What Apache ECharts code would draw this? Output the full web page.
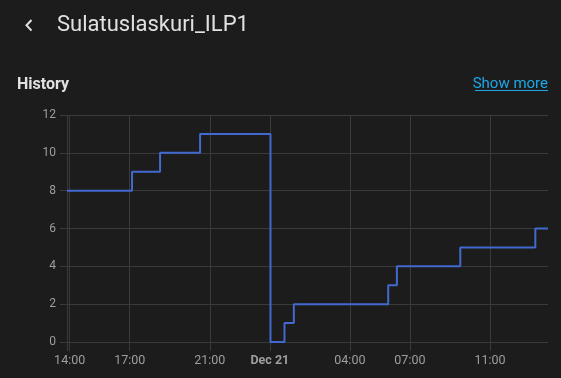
<!DOCTYPE html>
<html><head><meta charset="utf-8">
<script src="https://cdn.jsdelivr.net/npm/echarts@6/dist/echarts.min.js"></script>
<style>html,body{margin:0;padding:0;background:#1c1c1c;}#c{width:561px;height:378px;}</style>
</head><body><div id="c"></div>
<script>
const title = 'Sulatuslaskuri_ILP1';
const sectionTitle = 'History';
const linkText = 'Show more';
const stepTimes = ['2024-12-20 13:52','2024-12-20 17:07','2024-12-20 18:31','2024-12-20 20:31','2024-12-21 00:02','2024-12-21 00:44','2024-12-21 01:12','2024-12-21 05:55','2024-12-21 06:21','2024-12-21 09:31','2024-12-21 13:16','2024-12-21 13:54'];
const stepValues = [8, 9, 10, 11, 0, 1, 2, 3, 4, 5, 6, 6];
const xTickTimes = ['2024-12-20 14:00','2024-12-20 17:00','2024-12-20 21:00','2024-12-21 00:00','2024-12-21 04:00','2024-12-21 07:00','2024-12-21 11:00'];
const xMin = '2024-12-20 13:52';
const xMax = '2024-12-21 13:54';
const yTicks = [0, 2, 4, 6, 8, 10, 12];

const ts = s => new Date(s.replace(' ', 'T')).getTime();
const data = stepTimes.map((t, i) => [ts(t), stepValues[i]]);
const labelVals = xTickTimes.map(ts);
const tickVals = [ts(xMin)].concat(labelVals);

const chart = echarts.init(document.getElementById('c'), null, {renderer: 'canvas'});
const grid = '#3a3a3a';
chart.setOption({
  backgroundColor: '#1c1c1c',
  animation: false,
  grid: {left: 67, right: 13, top: 115, bottom: 36},
  xAxis: {
    type: 'value', min: ts(xMin), max: ts(xMax),
    axisLine: {show: false},
    axisTick: {show: true, length: 9, lineStyle: {color: grid}, customValues: tickVals},
    splitLine: {show: true, lineStyle: {color: grid, width: 1}},
    axisLabel: {
      customValues: labelVals, color: '#9e9e9e', fontFamily: 'Roboto', fontSize: 12.5, margin: 12,
      hideOverlap: false,
      formatter: v => {
        const d = new Date(v);
        const h = d.getHours(), m = d.getMinutes();
        if (h === 0 && m === 0) return '{b|Dec ' + d.getDate() + '}';
        return String(h).padStart(2, '0') + ':' + String(m).padStart(2, '0');
      },
      rich: {b: {fontWeight: 'bold', color: '#9e9e9e', fontFamily: 'Roboto', fontSize: 12.5}}
    }
  },
  yAxis: {
    type: 'value', min: 0, max: 12, interval: 2,
    axisLine: {show: false},
    axisTick: {show: true, length: 7, lineStyle: {color: grid}},
    splitLine: {show: true, lineStyle: {color: grid, width: 1}},
    axisLabel: {color: '#9e9e9e', fontFamily: 'Roboto', fontSize: 12, margin: 11}
  },
  series: [{
    type: 'line', step: 'end', data: data, showSymbol: false,
    lineStyle: {color: '#4269d0', width: 2}, itemStyle: {color: '#4269d0'}
  }],
  graphic: [
    {type: 'polyline', shape: {points: [[31.5, 20], [26.5, 25.3], [31.5, 30.6]]}, style: {stroke: '#e1e1e1', lineWidth: 2, fill: null}},
    {type: 'text', left: 57, top: 14.5, style: {text: title, fill: '#e1e1e1', font: '22px Roboto'}},
    {type: 'text', left: 17, top: 76.5, style: {text: sectionTitle, fill: '#e1e1e1', font: 'bold 16px Roboto'}},
    {type: 'text', right: 13, top: 77, style: {text: linkText, fill: '#1ea7e8', font: '15px Roboto'}},
    {type: 'line', shape: {x1: 475, y1: 90.5, x2: 548, y2: 90.5}, style: {stroke: '#1ea7e8', lineWidth: 1}}
  ]
});
</script></body></html>
